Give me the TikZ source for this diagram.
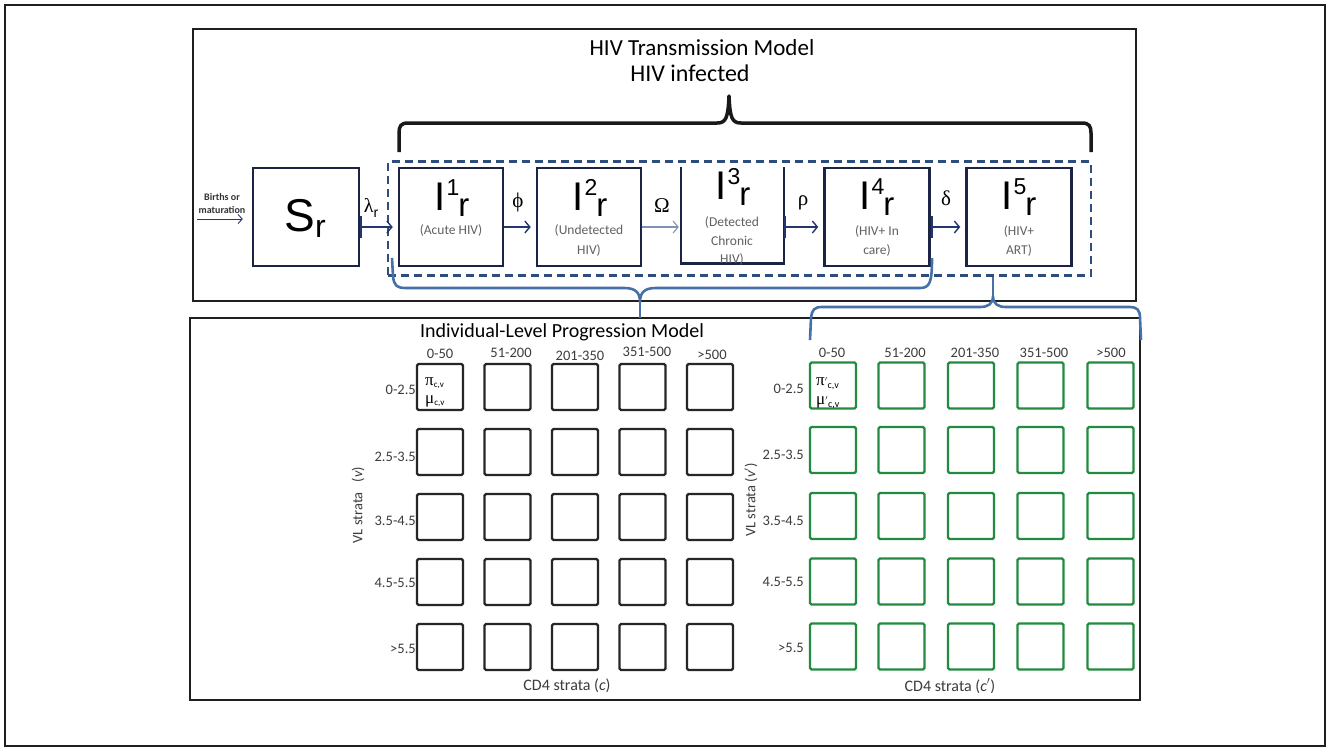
\documentclass[tikz,border=0pt]{standalone}
\usepackage{fontspec}
\setmainfont{Carlito}
\newfontfamily\arialf{Liberation Sans}
\newfontfamily\grk{Liberation Serif}
\usetikzlibrary{arrows.meta}
\definecolor{navy}{RGB}{28,36,70}
\definecolor{dashblue}{RGB}{45,78,125}
\definecolor{arrowblue}{RGB}{35,55,110}
\definecolor{lightarrow}{RGB}{125,148,182}
\definecolor{braceblue}{RGB}{70,112,168}
\definecolor{gridgreen}{RGB}{34,139,64}
\definecolor{labgray}{RGB}{60,60,60}
\newcommand{\Ilab}[1]{{\arialf\fontsize{40}{40}\selectfont I}\kern1pt\raisebox{15pt}{\arialf\fontsize{23}{23}\selectfont #1}\kern-1pt\raisebox{-6pt}{\arialf\fontsize{33}{33}\selectfont r}}
\begin{document}
\begin{tikzpicture}[x=1pt,y=-1pt,
  frame/.style={draw=black!88,line width=2pt,inner sep=0pt},
  cbox/.style={draw=navy,line width=2.5pt,minimum width=104pt,minimum height=98pt,inner sep=0pt},
  cell/.style={draw=black!85,line width=2.4pt,rounded corners=1.5pt,minimum size=46pt,inner sep=0pt},
  gcell/.style={cell,draw=gridgreen},
  sub/.style={font=\fontsize{13.5}{15}\selectfont,text=black!62,inner sep=0pt,anchor=base},
  hdr/.style={font=\fontsize{14.5}{15}\selectfont,text=labgray,inner sep=0pt},
  rowlab/.style={hdr,anchor=east},
  glab/.style={font=\grk\fontsize{21}{21}\selectfont,inner sep=0pt},
  arr/.style={draw=arrowblue,line width=1.4pt,shorten >=5pt,-{Straight Barb[length=5pt,width=12pt]}},
  barr/.style={arr,{Bar[width=22pt,line width=1.8pt]}-{Straight Barb[length=5pt,width=12pt]}},
  bbrace/.style={draw=braceblue,line width=2.6pt,line join=round}]
\useasboundingbox (0,0) rectangle (1328,748);
\fill[white] (0,0) rectangle (1328,748);
% frames
\node[frame,line width=2.5pt,minimum width=1320pt,minimum height=741pt] (outer) at (665,375.5) {};
\node[frame,minimum width=943pt,minimum height=272pt] (toppanel) at (664.5,165) {};
\node[frame,minimum width=950pt,minimum height=382pt] (botpanel) at (665,509) {};
% titles
\node[font=\fontsize{23}{23}\selectfont,inner sep=0pt] (title1) at (702,48) {HIV Transmission Model};
\node[font=\fontsize{24}{24}\selectfont,inner sep=0pt] (title2) at (690,73) {HIV infected};
% black brace
\draw[line width=3.5pt,black!90,line join=round] (399,152) -- (399,133) .. controls (399,126) and (401,123) .. (408,123) -- (717,123) .. controls (726,123) and (728,118) .. (729,96) .. controls (730,118) and (732,123) .. (741,123) -- (1082,123) .. controls (1089,123) and (1091,126) .. (1091,133) -- (1091,152);
% dashed box
\node[draw=dashblue,line width=2.5pt,dash pattern=on 8pt off 5pt,minimum width=703pt,minimum height=114pt,inner sep=0pt] (dbox) at (739.5,218.5) {};
% compartments
\node[cbox,minimum width=106pt] (S) at (306,217) {};
\node[cbox] (I1) at (451,217) {};
\node[cbox] (I2) at (589,217) {};
\node[inner sep=0pt,minimum width=103pt,minimum height=96pt] (I3) at (732.5,215.5) {};
\draw[navy,line width=2.5pt] (I3.north west) -- (I3.south west) -- (I3.south east) -- (I3.north east);
\node[cbox,minimum width=105pt] (I4) at (877,217) {};
\node[cbox,minimum width=105pt] (I5) at (1019,217) {};
% compartment texts
\node[anchor=base,inner sep=0pt] (St) at (305,231) {{\arialf\fontsize{46}{46}\selectfont S}\raisebox{-6pt}{\arialf\fontsize{32}{32}\selectfont r}};
\node[anchor=base,inner sep=0pt] (I1t) at (452,210) {\Ilab{1}};
\node[anchor=base,inner sep=0pt] (I2t) at (590,210) {\Ilab{2}};
\node[anchor=base,inner sep=0pt] (I3t) at (733,199) {\Ilab{3}};
\node[anchor=base,inner sep=0pt] (I4t) at (877,209) {\Ilab{4}};
\node[anchor=base,inner sep=0pt] (I5t) at (1019,209) {\Ilab{5}};
\node[sub] (I1s) at (451,234) {(Acute HIV)};
\node[sub] (I2s) at (589,234) {(Undetected};
\node[sub] (I2s2) at (589,254) {HIV)};
\node[sub] (I3s) at (732,226) {(Detected};
\node[sub] (I3s2) at (732,245) {Chronic};
\node[sub] (I3s3) at (732,263) {HIV)};
\node[sub] (I4s) at (877,235) {(HIV+ In};
\node[sub] (I4s2) at (877,254) {care)};
\node[sub] (I5s) at (1019,235) {(HIV+};
\node[sub] (I5s2) at (1019,254) {ART)};
% births
\node[font=\bfseries\fontsize{10}{13}\selectfont,text=black!80,align=center,inner sep=0pt] (births) at (222,204) {Births or\\maturation};
\coordinate (bstart) at (197,219);
\draw[draw=arrowblue,line width=0.9pt,shorten >=9pt,-{Straight Barb[length=4pt,width=9pt]}] (bstart) -- (S.west |- bstart);
% transition arrows
\coordinate (ay) at (0,227);
\draw[barr] (S.east |- ay) -- (I1.west |- ay);
\draw[arr] (I1.east |- ay) -- (I2.west |- ay);
\draw[arr,draw=lightarrow,line width=1.1pt,shorten >=2pt] (I2.east |- ay) -- (I3.west |- ay);
\draw[barr] (I3.east |- ay) -- (I4.west |- ay);
\draw[barr] (I4.east |- ay) -- (I5.west |- ay);
\node[inner sep=0pt] (lam) at (371,208) {{\grk\fontsize{20}{20}\selectfont λ}\raisebox{-5pt}{\arialf\fontsize{14}{14}\selectfont r}};
\node[glab] (phi) at (518,202) {ϕ};
\node[glab] (Om) at (662,206) {Ω};
\node[glab] (rho) at (803,203) {ρ};
\node[glab] (del) at (946,198) {δ};
% blue braces
\draw[bbrace] (392,258) -- (393,276) .. controls (394,286) and (397,288) .. (406,288) -- (624,288) .. controls (635,288) and (640,292) .. (640,302) .. controls (640,292) and (645,288) .. (656,288) -- (920,288) .. controls (930,288) and (932,282) .. (932,258);
\draw[bbrace] (640,300) -- (640,318);
\draw[bbrace] (810,340) -- (811,318) .. controls (812,310) and (814,307) .. (822,307) -- (980,307) .. controls (988,307) and (993,304) .. (993,296) .. controls (993,304) and (998,307) .. (1006,307) -- (1130,307) .. controls (1137,307) and (1140,310) .. (1140,318) -- (1141,340);
\draw[bbrace] (993,298) -- (993,277);
% bottom panel title
\node[font=\fontsize{20}{20}\selectfont,inner sep=0pt] (ilpm) at (562,332) {Individual-Level Progression Model};
% left grid
\foreach \r/\y in {1/387,2/452,3/517,4/582,5/647}{
  \foreach \c/\x in {1/440,2/507.5,3/575,4/642.5,5/710}{
    \node[cell] (L\r\c) at (\x,\y) {};
  }
}
\foreach \c/\t/\x/\y in {1/0-50/440/354,2/51-200/511/353,3/201-350/580/356,4/351-500/647/352,5/>500/712/355}{
  \node[hdr] (Lh\c) at (\x,\y) {\t};
}
\foreach \r/\t/\y in {1/0-2.5/390,2/2.5-3.5/457,3/3.5-4.5/521,4/4.5-5.5/583,5/>5.5/649}{
  \node[rowlab] (Lr\r) at (416,\y) {\t};
}
\node[hdr,rotate=90] (Lvl) at (358,505) {VL strata~~~(\textit{v})};
\node[font=\fontsize{16}{16}\selectfont,text=labgray,inner sep=0pt] (Lcd) at (567,686) {CD4 strata (\textit{c})};
\node[anchor=base west,inner sep=0pt] (Lpi) at (425,385) {{\grk\fontsize{17}{17}\selectfont π}\raisebox{-2pt}{\fontsize{9}{9}\selectfont c,v}};
\node[anchor=base west,inner sep=0pt] (Lmu) at (425,403) {{\grk\fontsize{17}{17}\selectfont μ}\raisebox{-2pt}{\fontsize{9}{9}\selectfont c,v}};
% right grid
\foreach \r/\y in {1/385.5,2/450,3/516,4/581.5,5/646.5}{
  \foreach \c/\x in {1/833,2/901.5,3/971,4/1040.5,5/1110.5}{
    \node[gcell] (R\r\c) at (\x,\y) {};
  }
}
\foreach \c/\t/\x in {1/0-50/832,2/51-200/905,3/201-350/975,4/351-500/1044,5/>500/1111}{
  \node[hdr] (Rh\c) at (\x,353) {\t};
}
\foreach \r/\t/\y in {1/0-2.5/389,2/2.5-3.5/455,3/3.5-4.5/521,4/4.5-5.5/582,5/>5.5/648}{
  \node[rowlab] (Rr\r) at (804,\y) {\t};
}
\node[hdr,rotate=90] (Rvl) at (751,500) {VL strata (\textit{v}$'$)};
\node[font=\fontsize{16}{16}\selectfont,text=labgray,inner sep=0pt] (Rcd) at (950,686) {CD4 strata (\textit{c}$'$)};
\node[anchor=base west,inner sep=0pt] (Rpi) at (816,385) {{\grk\fontsize{17}{17}\selectfont π}$'$\raisebox{-3pt}{\fontsize{10}{10}\selectfont c,v}};
\node[anchor=base west,inner sep=0pt] (Rmu) at (816,404) {{\grk\fontsize{17}{17}\selectfont μ}$'$\raisebox{-3pt}{\fontsize{10}{10}\selectfont c,v}};
\end{tikzpicture}
\end{document}
